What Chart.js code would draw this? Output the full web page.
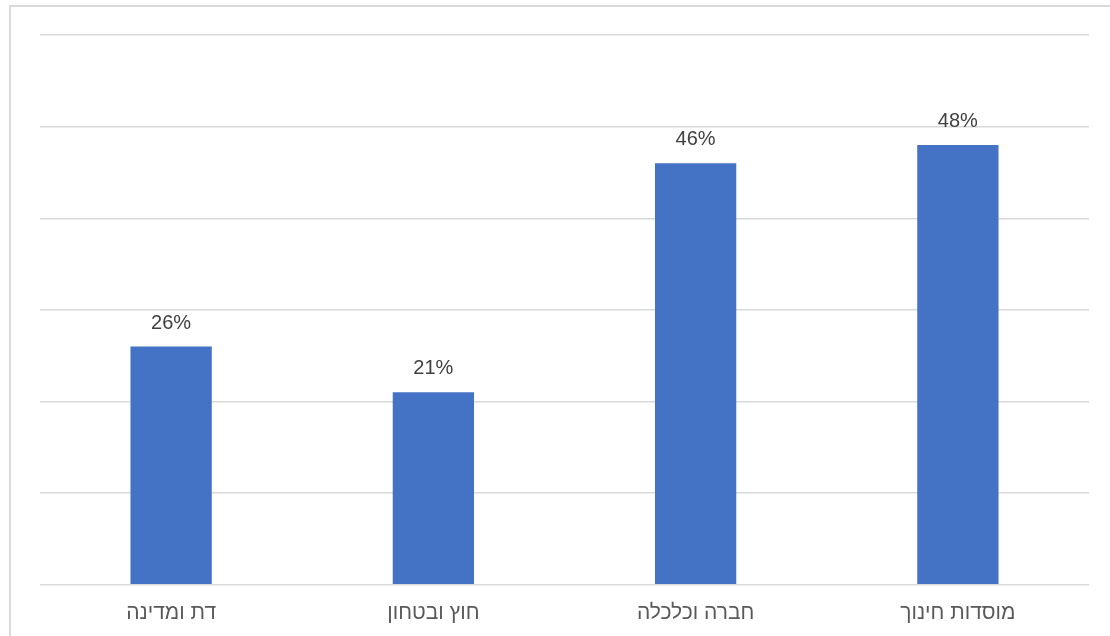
<!DOCTYPE html>
<html lang="he">
<head>
<meta charset="utf-8">
<script src="https://cdn.jsdelivr.net/npm/chart.js@4"></script>
<style>
  html, body { margin: 0; padding: 0; background: #fff; overflow: hidden; }
  #frame { position: absolute; left: 9px; top: 5px; width: 1200px; height: 700px; border: 2px solid #d9d9d9; }
  #wrap { position: absolute; left: 0; top: 0; width: 1110px; height: 636px; }
</style>
</head>
<body>
<div id="frame"></div>
<div id="wrap"><canvas id="chart"></canvas></div>
<script>
// categories, left to right as shown
const categories = ['דת ומדינה', 'חוץ ובטחון', 'חברה וכלכלה', 'מוסדות חינוך'];
const shares = [26, 21, 46, 48];
const yMax = 60;
const yStep = 10;

const valueLabels = {
    id: 'valueLabels',
    afterDatasetsDraw(chart) {
        const ctx = chart.ctx;
        const meta = chart.getDatasetMeta(0);
        ctx.save();
        ctx.font = '20px "Liberation Sans", "DejaVu Sans", sans-serif';
        ctx.fillStyle = '#404040';
        ctx.textAlign = 'center';
        ctx.textBaseline = 'alphabetic';
        meta.data.forEach(function(bar, i) {
            ctx.fillText(shares[i] + '%', bar.x, bar.y - 18);
        });
        ctx.restore();
    }
};

document.addEventListener('DOMContentLoaded', function() {
    const ctx = document.getElementById('chart');
    new Chart(ctx, {
        type: 'bar',
        data: {
            labels: categories,
            datasets: [{
                data: shares,
                backgroundColor: '#4472c4',
                categoryPercentage: 1,
                barPercentage: 0.31
            }]
        },
        options: {
            responsive: true,
            maintainAspectRatio: false,
            animation: false,
            layout: { padding: { left: 40, right: 21, top: 35, bottom: 2 } },
            plugins: {
                legend: { display: false },
                tooltip: { enabled: false }
            },
            scales: {
                x: {
                    grid: { display: false },
                    border: { display: false },
                    ticks: {
                        color: '#595959',
                        padding: 8,
                        font: { family: '"Liberation Sans", "DejaVu Sans", sans-serif', size: 21 }
                    }
                },
                y: {
                    min: 0,
                    max: yMax,
                    ticks: { display: false, stepSize: yStep },
                    grid: { color: '#d9d9d9', lineWidth: 1.5, drawTicks: false },
                    border: { display: false }
                }
            }
        },
        plugins: [valueLabels]
    });
});
</script>
</body>
</html>
